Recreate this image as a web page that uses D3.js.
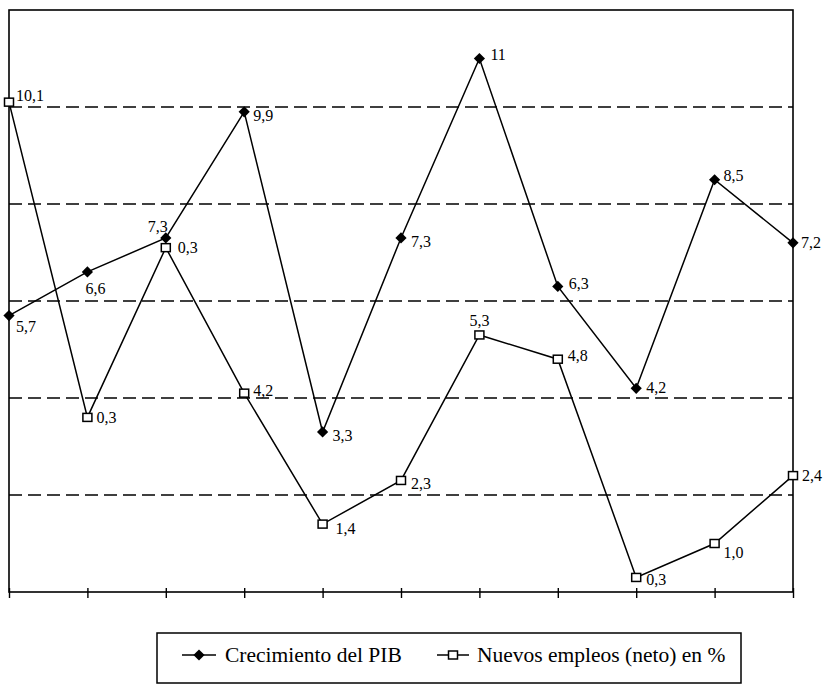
<!DOCTYPE html>
<html>
<head>
<meta charset="utf-8">
<script src="https://cdn.jsdelivr.net/npm/d3@7"></script>
</head>
<body style="margin:0">
<svg id="chart" width="826" height="686"></svg>
<script>
// ---- data ----
const periods = [1, 2, 3, 4, 5, 6, 7, 8, 9, 10, 11];
const pib = [5.7, 6.6, 7.3, 9.9, 3.3, 7.3, 11, 6.3, 4.2, 8.5, 7.2];
const pibLabels = ["5,7", "6,6", "7,3", "9,9", "3,3", "7,3", "11", "6,3", "4,2", "8,5", "7,2"];
const empleo = [10.1, 3.6, 7.1, 4.1, 1.4, 2.3, 5.3, 4.8, 0.3, 1.0, 2.4];
const empleoLabels = ["10,1", "0,3", "0,3", "4,2", "1,4", "2,3", "5,3", "4,8", "0,3", "1,0", "2,4"];
const gridValues = [2, 4, 6, 8, 10];
const seriesNames = ["Crecimiento del PIB", "Nuevos empleos (neto) en %"];

// ---- layout ----
const FONT = '"Liberation Serif", monospace';
const plot = { left: 9, right: 793, top: 10, bottom: 592 };
const pibOffsets = [[7,16,"start"],[-2,22,"start"],[2,-6,"end"],[9,9,"start"],[10,9,"start"],[10,9,"start"],[11,1,"start"],[11,3,"start"],[10,5,"start"],[9,1,"start"],[8,5,"start"]];
const empOffsets = [[7,-1,"start"],[9,6,"start"],[12,5,"start"],[9,3,"start"],[13,10,"start"],[10,9,"start"],[0,-9,"middle"],[10,2,"start"],[10,8,"start"],[9,14,"start"],[9,5,"start"]];

const svg = d3.select("#chart");
const x = d3.scalePoint().domain(periods).range([plot.left, plot.right]).padding(0);
const y = d3.scaleLinear().domain([0, 12]).range([plot.bottom, plot.top]);

// gridlines
svg.append("g").selectAll("line").data(gridValues).join("line")
  .attr("x1", plot.left).attr("x2", plot.right)
  .attr("y1", d => y(d)).attr("y2", d => y(d))
  .attr("stroke", "#000").attr("stroke-width", 1.5)
  .attr("stroke-dasharray", "13,6");

// frame
svg.append("rect")
  .attr("x", plot.left).attr("y", plot.top)
  .attr("width", plot.right - plot.left).attr("height", plot.bottom - plot.top)
  .attr("fill", "none").attr("stroke", "#000").attr("stroke-width", 1.6);

// x axis ticks
const xAxis = d3.axisBottom(x).tickSize(6).tickFormat("");
const gx = svg.append("g").attr("transform", `translate(0,${plot.bottom})`).call(xAxis);
gx.select(".domain").remove();
gx.selectAll(".tick line").attr("y1", -4).attr("y2", 6).attr("stroke", "#000").attr("stroke-width", 1.4);

const line = d3.line().x((d, i) => x(periods[i])).y(d => y(d));

// lines
svg.append("path").datum(pib).attr("d", line)
  .attr("fill", "none").attr("stroke", "#000").attr("stroke-width", 1.5);
svg.append("path").datum(empleo).attr("d", line)
  .attr("fill", "none").attr("stroke", "#000").attr("stroke-width", 1.5);

// markers
const diamond = d3.symbol().type(d3.symbolDiamond2).size(80);
svg.append("g").selectAll("path").data(pib).join("path")
  .attr("transform", (d, i) => `translate(${x(periods[i])},${y(d)})`)
  .attr("d", diamond).attr("fill", "#000");
svg.append("g").selectAll("rect").data(empleo).join("rect")
  .attr("x", (d, i) => x(periods[i]) - 4.5).attr("y", d => y(d) - 4)
  .attr("width", 9).attr("height", 8)
  .attr("fill", "#fff").attr("stroke", "#000").attr("stroke-width", 1.5);

// labels
svg.append("g").selectAll("text").data(pib).join("text")
  .attr("x", (d, i) => x(periods[i]) + pibOffsets[i][0])
  .attr("y", (d, i) => y(d) + pibOffsets[i][1])
  .attr("text-anchor", (d, i) => pibOffsets[i][2])
  .attr("font-size", 16)
  .style("font-family", FONT)
  .text((d, i) => pibLabels[i]);
svg.append("g").selectAll("text").data(empleo).join("text")
  .attr("x", (d, i) => x(periods[i]) + empOffsets[i][0])
  .attr("y", (d, i) => y(d) + empOffsets[i][1])
  .attr("text-anchor", (d, i) => empOffsets[i][2])
  .attr("font-size", 16)
  .style("font-family", FONT)
  .text((d, i) => empleoLabels[i]);

// legend
const lg = svg.append("g");
lg.append("rect").attr("x", 157).attr("y", 633).attr("width", 584).attr("height", 50)
  .attr("fill", "none").attr("stroke", "#000").attr("stroke-width", 1.5);
lg.append("line").attr("x1", 182).attr("x2", 216).attr("y1", 655).attr("y2", 655)
  .attr("stroke", "#000").attr("stroke-width", 1.5);
lg.append("path").attr("transform", "translate(199,655)").attr("d", diamond).attr("fill", "#000");
lg.append("text").attr("x", 225).attr("y", 662).attr("font-size", 21.5).style("font-family", FONT).text(seriesNames[0]);
lg.append("line").attr("x1", 437).attr("x2", 469).attr("y1", 655).attr("y2", 655)
  .attr("stroke", "#000").attr("stroke-width", 1.5);
lg.append("rect").attr("x", 448.5).attr("y", 651).attr("width", 9).attr("height", 8)
  .attr("fill", "#fff").attr("stroke", "#000").attr("stroke-width", 1.5);
lg.append("text").attr("x", 477).attr("y", 662).attr("font-size", 21.5).style("font-family", FONT).text(seriesNames[1]);
</script>
</body>
</html>
